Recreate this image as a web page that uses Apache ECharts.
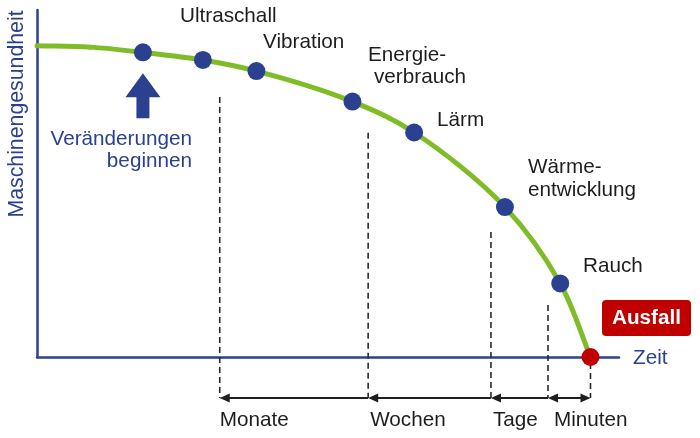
<!DOCTYPE html>
<html><head><meta charset="utf-8">
<script src="https://cdn.jsdelivr.net/npm/echarts@6.0.0/dist/echarts.min.js"></script>
<style>html,body{margin:0;padding:0;background:#fff}#c{width:700px;height:438px}</style>
</head><body><div id="c"></div>
<script>
// ---- data (time 0..100 on x, machine health 0..100 on y) ----
const curveTime   = [0, 9.1, 18.2, 28.5, 37.7, 54.2, 64.8, 80.4, 89.9, 95.1];
const curveHealth = [89.7, 89.3, 87.8, 85.6, 82.4, 73.6, 64.7, 43.2, 21.2, 0];
const signalNames  = ['Veränderungen beginnen', 'Ultraschall', 'Vibration', 'Energieverbrauch', 'Lärm', 'Wärmeentwicklung', 'Rauch'];
const signalTime   = [18.2, 28.5, 37.7, 54.2, 64.8, 80.4, 89.9];
const signalHealth = [87.8, 85.6, 82.4, 73.6, 64.7, 43.2, 21.2];
const failureTime = [95.1];
const failureHealth = [0];
const phaseNames  = ['Monate', 'Wochen', 'Tage', 'Minuten'];
const phaseBounds = [31.4, 56.9, 78.0, 87.8, 95.1];
const boundTops   = [74.9, 64.6, 36.0, 15.0, -1.7];
const arrowLevel  = -11.8;

const BLUE = '#2b4190', GREEN = '#80bc28', RED = '#c00000', INK = '#1e1e1e';
const FONT = '20.7px "Liberation Sans", Arial, sans-serif';

const chart = echarts.init(document.getElementById('c'), null, {renderer: 'canvas'});

function arrowHead(x, y, dir) {
  const L = 10, H = 4.5;
  return {type: 'polygon', shape: {points: [[x, y], [x - dir * L, y - H], [x - dir * L, y + H]]},
          style: {fill: INK}};
}

const labelOffsets = [0, 2, 2, 6];

// centripetal Catmull-Rom segment -> cubic bezier control points (pixel space)
function crSegment(P0, P1, P2, P3) {
  const a = 0.5;
  const dist = (p, q) => Math.max(1e-6, Math.hypot(q[0] - p[0], q[1] - p[1]));
  const d1 = dist(P0, P1), d2 = dist(P1, P2), d3 = dist(P2, P3);
  const d1a = Math.pow(d1, a), d2a = Math.pow(d2, a), d3a = Math.pow(d3, a);
  const d1a2 = d1a * d1a, d2a2 = d2a * d2a, d3a2 = d3a * d3a;
  const b1 = [0, 1].map(k => (d1a2 * P2[k] - d2a2 * P0[k] + (2 * d1a2 + 3 * d1a * d2a + d2a2) * P1[k]) / (3 * d1a * (d1a + d2a)));
  const b2 = [0, 1].map(k => (d3a2 * P1[k] - d2a2 * P3[k] + (2 * d3a2 + 3 * d3a * d2a + d2a2) * P2[k]) / (3 * d3a * (d3a + d2a)));
  return [b1, b2];
}

const option = {
  animation: false,
  grid: {left: 37, right: 81, top: 10, bottom: 81},
  xAxis: {type: 'value', min: 0, max: 100,
    axisLine: {show: true, lineStyle: {color: BLUE, width: 2.5}},
    axisTick: {show: false}, axisLabel: {show: false}, splitLine: {show: false}},
  yAxis: {type: 'value', min: 0, max: 100,
    axisLine: {show: true, lineStyle: {color: BLUE, width: 2.5}},
    axisTick: {show: false}, axisLabel: {show: false}, splitLine: {show: false}},
  series: [
    {
      type: 'custom', z: 1, clip: false,
      data: phaseBounds.map((t, i) => [t, boundTops[i], i]),
      renderItem: function (params, api) {
        const i = api.value(2);
        const top = api.coord([api.value(0), api.value(1)]);
        const bot = api.coord([api.value(0), arrowLevel]);
        const children = [{
          type: 'line', shape: {x1: top[0], y1: top[1], x2: bot[0], y2: bot[1]},
          style: {stroke: '#2a2a2a', lineWidth: 1.6, lineDash: [6, 4]}
        }];
        if (i < phaseNames.length) {
          const nxt = api.coord([phaseBounds[i + 1], arrowLevel]);
          children.push({type: 'line', shape: {x1: bot[0] + 4, y1: bot[1], x2: nxt[0] - (i === phaseNames.length - 1 ? 4 : 0), y2: nxt[1]},
            style: {stroke: INK, lineWidth: 2}});
          children.push(arrowHead(bot[0], bot[1], -1));
          if (i === phaseNames.length - 1) children.push(arrowHead(nxt[0], nxt[1], 1));
          children.push({type: 'text', style: {text: phaseNames[i], x: bot[0] + labelOffsets[i], y: bot[1] + 22,
            align: 'left', verticalAlign: 'middle', font: FONT, fill: INK}});
        }
        return {type: 'group', children: children};
      }
    },
    {
      // health curve: smooth spline through the curve points, via the axes' scales
      type: 'custom', z: 3, clip: false,
      data: curveTime.map((t, i) => [t, curveHealth[i], i]),
      renderItem: function (params, api) {
        const i = api.value(2);
        const n = curveTime.length;
        if (i >= n - 1) return null;
        const P = k => api.coord([curveTime[k], curveHealth[k]]);
        const P1 = P(i), P2 = P(i + 1);
        const P0 = i > 0 ? P(i - 1) : [2 * P1[0] - P2[0], 2 * P1[1] - P2[1]];
        const P3 = i + 2 < n ? P(i + 2) : [2 * P2[0] - P1[0], 2 * P2[1] - P1[1]];
        const cp = crSegment(P0, P1, P2, P3);
        return {type: 'bezierCurve', shape: {x1: P1[0], y1: P1[1], x2: P2[0], y2: P2[1],
          cpx1: cp[0][0], cpy1: cp[0][1], cpx2: cp[1][0], cpy2: cp[1][1]},
          style: {stroke: GREEN, lineWidth: 5, fill: null, lineCap: 'round'}};
      }
    },
    {
      type: 'scatter', z: 4, symbolSize: 18,
      data: signalTime.map((t, i) => ({name: signalNames[i], value: [t, signalHealth[i]]})),
      itemStyle: {color: BLUE, opacity: 1}
    },
    {
      type: 'scatter', z: 5, symbolSize: 18, clip: false,
      data: failureTime.map((t, i) => [t, failureHealth[i]]),
      itemStyle: {color: RED, opacity: 1}
    },
    {
      type: 'custom', z: 4, clip: false,
      data: [[signalTime[0], signalHealth[0]]],
      renderItem: function (params, api) {
        const p = api.coord([api.value(0), api.value(1)]);
        const x = p[0], y = p[1];
        return {type: 'polygon', shape: {points: [
          [x, y + 21], [x + 17.5, y + 45], [x + 6.5, y + 45], [x + 6.5, y + 66],
          [x - 6.5, y + 66], [x - 6.5, y + 45], [x - 17.5, y + 45]]},
          style: {fill: BLUE}};
      }
    }
  ],
  graphic: [
    {type: 'text', x: 17, y: 114, rotation: Math.PI / 2,
      style: {text: 'Maschinengesundheit', align: 'center', verticalAlign: 'middle',
        font: '21.3px "Liberation Sans", Arial, sans-serif', fill: BLUE}},
    {type: 'text', x: 192, y: 139, style: {text: 'Veränderungen', align: 'right', verticalAlign: 'middle', font: FONT, fill: BLUE}},
    {type: 'text', x: 192, y: 161, style: {text: 'beginnen', align: 'right', verticalAlign: 'middle', font: FONT, fill: BLUE}},
    {type: 'text', x: 180, y: 16, style: {text: 'Ultraschall', align: 'left', verticalAlign: 'middle', font: FONT, fill: INK}},
    {type: 'text', x: 263, y: 42, style: {text: 'Vibration', align: 'left', verticalAlign: 'middle', font: FONT, fill: INK}},
    {type: 'text', x: 368, y: 55, style: {text: 'Energie-', align: 'left', verticalAlign: 'middle', font: FONT, fill: INK}},
    {type: 'text', x: 374, y: 77, style: {text: 'verbrauch', align: 'left', verticalAlign: 'middle', font: FONT, fill: INK}},
    {type: 'text', x: 437, y: 120, style: {text: 'Lärm', align: 'left', verticalAlign: 'middle', font: FONT, fill: INK}},
    {type: 'text', x: 528, y: 167, style: {text: 'Wärme-', align: 'left', verticalAlign: 'middle', font: FONT, fill: INK}},
    {type: 'text', x: 528, y: 190, style: {text: 'entwicklung', align: 'left', verticalAlign: 'middle', font: FONT, fill: INK}},
    {type: 'text', x: 583, y: 266, style: {text: 'Rauch', align: 'left', verticalAlign: 'middle', font: FONT, fill: INK}},
    {type: 'rect', x: 602, y: 300, shape: {width: 89, height: 36, r: 4}, style: {fill: RED}},
    {type: 'text', x: 646.5, y: 318, style: {text: 'Ausfall', align: 'center', verticalAlign: 'middle',
      font: 'bold 20.7px "Liberation Sans", Arial, sans-serif', fill: '#fff'}},
    {type: 'text', x: 633, y: 358, style: {text: 'Zeit', align: 'left', verticalAlign: 'middle', font: FONT, fill: BLUE}}
  ]
};
chart.setOption(option);
</script>
</body></html>
